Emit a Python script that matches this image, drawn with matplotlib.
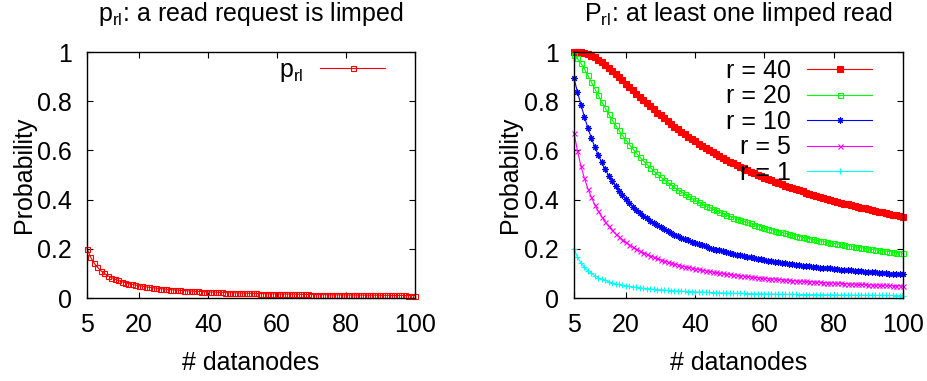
import matplotlib
matplotlib.use('Agg')
import matplotlib.pyplot as plt

plt.rcParams['font.family'] = ['Liberation Sans', 'DejaVu Sans']
plt.rcParams['mathtext.fontset'] = 'custom'
plt.rcParams['mathtext.rm'] = 'Liberation Sans'
plt.rcParams['mathtext.it'] = 'Liberation Sans:italic'

# number of datanodes
nodes = list(range(5, 101))

# probability that one read request is limped (same as r = 1)
p_rl = [0.2000, 0.1667, 0.1429, 0.1250, 0.1111, 0.1000, 0.0909, 0.0833, 0.0769, 0.0714,
        0.0667, 0.0625, 0.0588, 0.0556, 0.0526, 0.0500, 0.0476, 0.0455, 0.0435, 0.0417,
        0.0400, 0.0385, 0.0370, 0.0357, 0.0345, 0.0333, 0.0323, 0.0313, 0.0303, 0.0294,
        0.0286, 0.0278, 0.0270, 0.0263, 0.0256, 0.0250, 0.0244, 0.0238, 0.0233, 0.0227,
        0.0222, 0.0217, 0.0213, 0.0208, 0.0204, 0.0200, 0.0196, 0.0192, 0.0189, 0.0185,
        0.0182, 0.0179, 0.0175, 0.0172, 0.0169, 0.0167, 0.0164, 0.0161, 0.0159, 0.0156,
        0.0154, 0.0152, 0.0149, 0.0147, 0.0145, 0.0143, 0.0141, 0.0139, 0.0137, 0.0135,
        0.0133, 0.0132, 0.0130, 0.0128, 0.0127, 0.0125, 0.0123, 0.0122, 0.0120, 0.0119,
        0.0118, 0.0116, 0.0115, 0.0114, 0.0112, 0.0111, 0.0110, 0.0109, 0.0108, 0.0106,
        0.0105, 0.0104, 0.0103, 0.0102, 0.0101, 0.0100]

r_1 = p_rl

r_5 = [0.672, 0.598, 0.537, 0.487, 0.445, 0.410, 0.379, 0.353, 0.330, 0.310,
       0.292, 0.276, 0.261, 0.249, 0.237, 0.226, 0.216, 0.208, 0.199, 0.192,
       0.185, 0.178, 0.172, 0.166, 0.161, 0.156, 0.151, 0.147, 0.143, 0.139,
       0.135, 0.131, 0.128, 0.125, 0.122, 0.119, 0.116, 0.114, 0.111, 0.109,
       0.106, 0.104, 0.102, 0.100, 0.098, 0.096, 0.094, 0.093, 0.091, 0.089,
       0.088, 0.086, 0.085, 0.083, 0.082, 0.081, 0.079, 0.078, 0.077, 0.076,
       0.075, 0.074, 0.072, 0.071, 0.070, 0.069, 0.068, 0.068, 0.067, 0.066,
       0.065, 0.064, 0.063, 0.062, 0.062, 0.061, 0.060, 0.060, 0.059, 0.058,
       0.057, 0.057, 0.056, 0.055, 0.055, 0.054, 0.054, 0.053, 0.053, 0.052,
       0.052, 0.051, 0.050, 0.050, 0.050, 0.049]

r_10 = [0.893, 0.838, 0.786, 0.737, 0.692, 0.651, 0.614, 0.581, 0.551, 0.523,
        0.498, 0.476, 0.455, 0.435, 0.418, 0.401, 0.386, 0.372, 0.359, 0.347,
        0.335, 0.324, 0.314, 0.305, 0.296, 0.288, 0.280, 0.272, 0.265, 0.258,
        0.252, 0.245, 0.240, 0.234, 0.229, 0.224, 0.219, 0.214, 0.210, 0.205,
        0.201, 0.197, 0.194, 0.190, 0.186, 0.183, 0.180, 0.176, 0.173, 0.171,
        0.168, 0.165, 0.162, 0.160, 0.157, 0.155, 0.152, 0.150, 0.148, 0.146,
        0.144, 0.142, 0.140, 0.138, 0.136, 0.134, 0.132, 0.131, 0.129, 0.127,
        0.126, 0.124, 0.123, 0.121, 0.120, 0.118, 0.117, 0.115, 0.114, 0.113,
        0.112, 0.110, 0.109, 0.108, 0.107, 0.106, 0.105, 0.104, 0.102, 0.101,
        0.100, 0.099, 0.098, 0.097, 0.097, 0.096]

r_20 = [0.988, 0.974, 0.954, 0.931, 0.905, 0.878, 0.851, 0.825, 0.798, 0.773,
        0.748, 0.725, 0.703, 0.681, 0.661, 0.642, 0.623, 0.606, 0.589, 0.573,
        0.558, 0.544, 0.530, 0.517, 0.504, 0.492, 0.481, 0.470, 0.460, 0.450,
        0.440, 0.431, 0.422, 0.413, 0.405, 0.397, 0.390, 0.382, 0.375, 0.369,
        0.362, 0.356, 0.350, 0.344, 0.338, 0.332, 0.327, 0.322, 0.317, 0.312,
        0.307, 0.303, 0.298, 0.294, 0.290, 0.285, 0.281, 0.278, 0.274, 0.270,
        0.267, 0.263, 0.260, 0.256, 0.253, 0.250, 0.247, 0.244, 0.241, 0.238,
        0.235, 0.233, 0.230, 0.227, 0.225, 0.222, 0.220, 0.218, 0.215, 0.213,
        0.211, 0.209, 0.206, 0.204, 0.202, 0.200, 0.198, 0.196, 0.194, 0.193,
        0.191, 0.189, 0.187, 0.185, 0.184, 0.182]

r_40 = [1.000, 0.999, 0.998, 0.995, 0.991, 0.985, 0.978, 0.969, 0.959, 0.948,
        0.937, 0.924, 0.912, 0.898, 0.885, 0.871, 0.858, 0.844, 0.831, 0.818,
        0.805, 0.792, 0.779, 0.767, 0.754, 0.742, 0.731, 0.719, 0.708, 0.697,
        0.686, 0.676, 0.666, 0.656, 0.646, 0.637, 0.628, 0.619, 0.610, 0.601,
        0.593, 0.585, 0.577, 0.569, 0.562, 0.554, 0.547, 0.540, 0.533, 0.527,
        0.520, 0.514, 0.507, 0.501, 0.495, 0.489, 0.484, 0.478, 0.473, 0.467,
        0.462, 0.457, 0.452, 0.447, 0.442, 0.438, 0.433, 0.428, 0.424, 0.420,
        0.415, 0.411, 0.407, 0.403, 0.399, 0.395, 0.392, 0.388, 0.384, 0.381,
        0.377, 0.374, 0.370, 0.367, 0.364, 0.360, 0.357, 0.354, 0.351, 0.348,
        0.345, 0.342, 0.339, 0.337, 0.334, 0.331]

x_ticks = [5, 20, 40, 60, 80, 100]
y_ticks = [0, 0.2, 0.4, 0.6, 0.8, 1]
y_tick_labels = ['0', '0.2', '0.4', '0.6', '0.8', '1']

FS = 18

fig = plt.figure(figsize=(9.27, 3.81), dpi=100)
ax1 = fig.add_axes([0.0939, 0.2178, 0.3538, 0.6457])
ax2 = fig.add_axes([0.6192, 0.2178, 0.3549, 0.6457])


def style_axes(ax, title):
    ax.set_xlim(5, 100)
    ax.set_ylim(0, 1)
    ax.set_xticks(x_ticks)
    ax.set_yticks(y_ticks)
    ax.set_yticklabels(y_tick_labels)
    ax.tick_params(direction='in', length=4, width=0.8, top=True, right=True,
                   labelsize=FS)
    ax.tick_params(axis='x', pad=11)
    ax.tick_params(axis='y', pad=11)
    for s in ax.spines.values():
        s.set_linewidth(1.0)
    ax.set_xlabel('# datanodes', fontsize=FS, labelpad=10)
    ax.set_ylabel('Probability', fontsize=FS, labelpad=1)
    ax.set_title(title, fontsize=FS, pad=22)


# left panel
ax1.plot(nodes, p_rl, color='red', lw=0.8, marker='s', ms=3.6, mfc='none',
         mew=0.8, clip_on=False, label=r'p$_{\mathrm{rl}}$')
style_axes(ax1, r'p$_{\mathrm{rl}}$: a read request is limped')
ax1.legend(loc='upper right', bbox_to_anchor=(0.909, 0.975), frameon=False,
           fontsize=FS, markerfirst=False, handlelength=2.6,
           handletextpad=0.65, borderpad=0, borderaxespad=0)

# right panel
series = [
    ('r = 40', r_40, 'red', 's', 'red', 3.8),
    ('r = 20', r_20, '#00ff00', 's', 'none', 3.6),
    ('r = 10', r_10, 'blue', (8, 2, 0), 'blue', 4.6),
    ('r = 5', r_5, 'magenta', 'x', 'magenta', 3.6),
    ('r = 1', r_1, 'cyan', '+', 'cyan', 4.2),
]
for lab, vals, col, mk, fc, ms in series:
    ax2.plot(nodes, vals, color=col, lw=0.8, marker=mk, ms=ms, mfc=fc,
             mew=0.8, clip_on=False, label=lab)
style_axes(ax2, r'P$_{\mathrm{rl}}$: at least one limped read')
ax2.legend(loc='upper right', bbox_to_anchor=(0.906, 0.972), frameon=False,
           fontsize=FS, markerfirst=False, handlelength=2.6,
           handletextpad=0.65, labelspacing=0.06, borderpad=0, borderaxespad=0)

fig.savefig('out.png', dpi=100)
